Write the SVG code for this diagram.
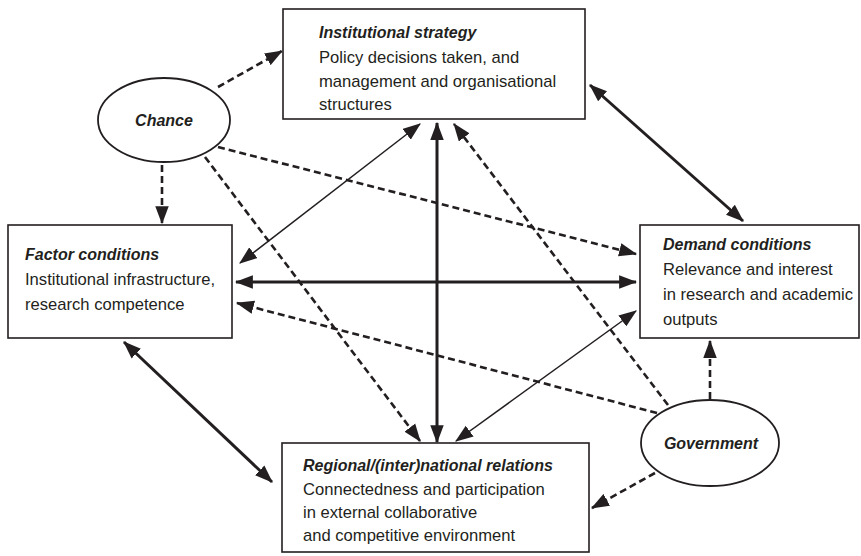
<svg xmlns="http://www.w3.org/2000/svg" width="861" height="556" viewBox="0 0 861 556">
<style>
.box{fill:#fff;stroke:#231f20;stroke-width:1.6}
.ell{fill:#fff;stroke:#231f20;stroke-width:1.8}
.t{font-family:"Liberation Sans",Arial,sans-serif;font-size:16.6px;fill:#231f20}
.h{font-family:"Liberation Sans",Arial,sans-serif;font-size:16px;font-weight:bold;font-style:italic;fill:#231f20}
.c{text-anchor:middle}
.dash{fill:none;stroke:#231f20;stroke-width:2.6;stroke-dasharray:7 4}
.thin{fill:none;stroke:#231f20;stroke-width:1.5}
.thick{fill:none;stroke:#231f20;stroke-width:3}
</style>
<defs>
<marker id="ah" markerUnits="userSpaceOnUse" markerWidth="18" markerHeight="14" viewBox="0 0 16 12" refX="15" refY="6" orient="auto-start-reverse">
<path d="M0,0 L16,6 L0,12 Z" fill="#231f20"/>
</marker>
</defs>
<g id="connectors">
<path class="dash" d="M218,87 L282,51" marker-end="url(#ah)"/>
<path class="dash" d="M162,165 L162,223" marker-end="url(#ah)"/>
<path class="dash" d="M218,147 L636,254" marker-end="url(#ah)"/>
<path class="dash" d="M205,157 L420,441" marker-end="url(#ah)"/>
<path class="dash" d="M668,405 L454,124" marker-end="url(#ah)"/>
<path class="dash" d="M657,413 L237,303" marker-end="url(#ah)"/>
<path class="dash" d="M710,399 L710,341" marker-end="url(#ah)"/>
<path class="dash" d="M655,473 L592,508" marker-end="url(#ah)"/>
<path class="thin" d="M240,263 L420,124" marker-start="url(#ah)" marker-end="url(#ah)"/>
<path class="thin" d="M456,441 L636,311" marker-start="url(#ah)" marker-end="url(#ah)"/>
<path class="thick" d="M236,282 L636,282" marker-start="url(#ah)" marker-end="url(#ah)"/>
<path class="thick" d="M437,123 L437,442" marker-start="url(#ah)" marker-end="url(#ah)"/>
<path class="thick" d="M590,85 L743,221" marker-start="url(#ah)" marker-end="url(#ah)"/>
<path class="thick" d="M124,342 L272,482" marker-start="url(#ah)" marker-end="url(#ah)"/>
</g>
<g id="institutional">
<rect class="box" x="283" y="9" width="302" height="110"/>
<text class="h" x="319" y="38">Institutional strategy</text>
<text class="t" x="319" y="63">Policy decisions taken, and</text>
<text class="t" x="319" y="87">management and organisational</text>
<text class="t" x="319" y="110">structures</text>
</g>
<g id="factor">
<rect class="box" x="8" y="225" width="224" height="113"/>
<text class="h" x="25" y="260">Factor conditions</text>
<text class="t" x="25" y="285">Institutional infrastructure,</text>
<text class="t" x="25" y="310">research competence</text>
</g>
<g id="demand">
<rect class="box" x="640" y="225" width="219" height="113"/>
<text class="h" x="663" y="250">Demand conditions</text>
<text class="t" x="663" y="275">Relevance and interest</text>
<text class="t" x="663" y="300">in research and academic</text>
<text class="t" x="663" y="325">outputs</text>
</g>
<g id="regional">
<rect class="box" x="282" y="443" width="307" height="109"/>
<text class="h" x="303" y="471">Regional/(inter)national relations</text>
<text class="t" x="303" y="495">Connectedness and participation</text>
<text class="t" x="303" y="518">in external collaborative</text>
<text class="t" x="303" y="541">and competitive environment</text>
</g>
<g id="chance">
<ellipse class="ell" cx="164" cy="120" rx="66" ry="42"/>
<text class="h c" x="164" y="126">Chance</text>
</g>
<g id="government">
<ellipse class="ell" cx="710" cy="443" rx="69" ry="43"/>
<text class="h c" x="711" y="449">Government</text>
</g>
</svg>
